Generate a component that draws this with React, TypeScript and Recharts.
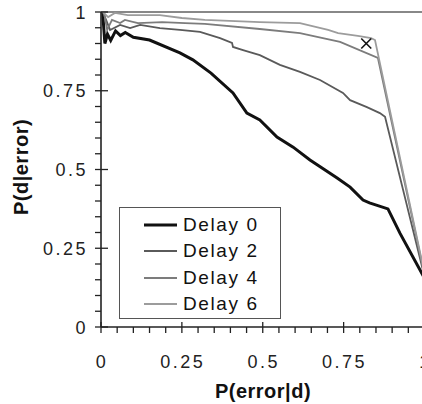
import React from 'react';
import { LineChart, Line, XAxis, YAxis, ReferenceLine, Scatter, Legend } from 'recharts';

const delay0 = [
  { x: 0.005, y: 1.0 }, { x: 0.012, y: 0.9 }, { x: 0.02, y: 0.93 }, { x: 0.03, y: 0.91 },
  { x: 0.045, y: 0.94 }, { x: 0.06, y: 0.925 }, { x: 0.075, y: 0.935 }, { x: 0.1, y: 0.92 },
  { x: 0.15, y: 0.911 }, { x: 0.244, y: 0.87 }, { x: 0.284, y: 0.848 }, { x: 0.34, y: 0.806 },
  { x: 0.408, y: 0.743 }, { x: 0.451, y: 0.679 }, { x: 0.491, y: 0.657 }, { x: 0.544, y: 0.603 },
  { x: 0.594, y: 0.571 }, { x: 0.646, y: 0.53 }, { x: 0.73, y: 0.473 }, { x: 0.77, y: 0.444 },
  { x: 0.81, y: 0.403 }, { x: 0.83, y: 0.394 }, { x: 0.887, y: 0.375 }, { x: 0.924, y: 0.298 },
  { x: 1.0, y: 0.155 },
];
const delay2 = [
  { x: 0.006, y: 1.0 }, { x: 0.028, y: 0.943 }, { x: 0.059, y: 0.959 }, { x: 0.09, y: 0.949 },
  { x: 0.121, y: 0.959 }, { x: 0.182, y: 0.949 }, { x: 0.244, y: 0.943 }, { x: 0.306, y: 0.937 },
  { x: 0.368, y: 0.917 }, { x: 0.405, y: 0.902 }, { x: 0.408, y: 0.889 }, { x: 0.439, y: 0.879 },
  { x: 0.491, y: 0.863 }, { x: 0.553, y: 0.832 }, { x: 0.615, y: 0.81 }, { x: 0.677, y: 0.784 },
  { x: 0.748, y: 0.743 }, { x: 0.77, y: 0.72 }, { x: 0.822, y: 0.698 }, { x: 0.862, y: 0.679 },
  { x: 0.878, y: 0.667 }, { x: 1.0, y: 0.16 },
];
const delay4 = [
  { x: 0.009, y: 1.0 }, { x: 0.019, y: 0.943 }, { x: 0.034, y: 0.975 }, { x: 0.059, y: 0.965 },
  { x: 0.074, y: 0.975 }, { x: 0.114, y: 0.965 }, { x: 0.189, y: 0.968 }, { x: 0.26, y: 0.965 },
  { x: 0.321, y: 0.962 }, { x: 0.491, y: 0.946 }, { x: 0.615, y: 0.933 }, { x: 0.739, y: 0.905 },
  { x: 0.856, y: 0.854 }, { x: 1.0, y: 0.165 },
];
const delay6 = [
  { x: 0.006, y: 1.0 }, { x: 0.022, y: 0.984 }, { x: 0.043, y: 0.997 }, { x: 0.083, y: 0.99 },
  { x: 0.182, y: 0.99 }, { x: 0.25, y: 0.981 }, { x: 0.321, y: 0.975 }, { x: 0.491, y: 0.968 },
  { x: 0.615, y: 0.965 }, { x: 0.702, y: 0.943 }, { x: 0.733, y: 0.933 }, { x: 0.794, y: 0.924 },
  { x: 0.835, y: 0.917 }, { x: 0.847, y: 0.911 }, { x: 1.0, y: 0.17 },
];
const marker = [{ x: 0.82, y: 0.9 }];

const allTicks = [0, 0.05, 0.1, 0.15, 0.2, 0.25, 0.3, 0.35, 0.4, 0.45, 0.5, 0.55, 0.6, 0.65, 0.7, 0.75, 0.8, 0.85, 0.9, 0.95, 1];
const majorTicks = [0, 0.25, 0.5, 0.75, 1];
const majorLabels = ['0', '0.25', '0.5', '0.75', '1'];

const seriesNames = ['Delay 0', 'Delay 2', 'Delay 4', 'Delay 6'];
const seriesColors = ['#111111', '#5a5a5a', '#7c7c7c', '#9c9c9c'];
const seriesWidths = [3, 1.8, 1.8, 1.8];

const FONT = '"Liberation Sans", Arial, Helvetica, sans-serif';
const AXIS = '#222';

const XTick = (props: any) => {
  const { x, y, payload } = props;
  const idx = majorTicks.indexOf(payload.value);
  const major = idx >= 0;
  return (
    <g>
      <line x1={x} x2={x} y1={major ? y - 5 : y} y2={y + 6} stroke={AXIS} strokeWidth={1.3} />
      {major && (
        <text x={x + 1} y={y + 41} textAnchor="middle" fontSize={18} letterSpacing={2.5} fill="#222" fontFamily={FONT}>
          {majorLabels[idx]}
        </text>
      )}
    </g>
  );
};

const YTick = (props: any) => {
  const { x, y, payload } = props;
  const idx = majorTicks.indexOf(payload.value);
  const major = idx >= 0;
  return (
    <g>
      <line x1={x - 6} x2={major ? x + 7 : x} y1={y} y2={y} stroke={AXIS} strokeWidth={1.3} />
      {major && (
        <text x={x - 13} y={y + 6.5} textAnchor="end" fontSize={18} letterSpacing={2.5} fill="#222" fontFamily={FONT}>
          {majorLabels[idx]}
        </text>
      )}
    </g>
  );
};

const XMark = (props: any) => {
  const { cx, cy } = props;
  const r = 5;
  return (
    <g>
      <line x1={cx - r} y1={cy - r} x2={cx + r} y2={cy + r} stroke="#111" strokeWidth={1.6} />
      <line x1={cx - r} y1={cy + r} x2={cx + r} y2={cy - r} stroke="#111" strokeWidth={1.6} />
    </g>
  );
};

const LegendBox = () => (
  <div
    style={{
      width: 160,
      height: 110,
      border: '1.5px solid #555',
      background: '#fff',
      position: 'relative',
      fontFamily: FONT,
    }}
  >
    {seriesNames.map((n, i) => (
      <div key={n} style={{ position: 'absolute', left: 0, top: 4 + i * 26.3, height: 26, width: 160 }}>
        <svg width={40} height={26} style={{ position: 'absolute', left: 22, top: 0 }}>
          <line x1={2} x2={35} y1={13} y2={13} stroke={seriesColors[i]} strokeWidth={seriesWidths[i]} />
        </svg>
        <span
          style={{
            position: 'absolute',
            left: 63,
            top: 1,
            fontSize: 19,
            letterSpacing: 1.6,
            color: '#111',
            lineHeight: '24px',
            whiteSpace: 'nowrap',
          }}
        >
          {n}
        </span>
      </div>
    ))}
  </div>
);

const series = [delay0, delay2, delay4, delay6];

export default function App() {
  return (
    <div style={{ position: 'absolute', left: 0, top: 0, width: 422, height: 404, overflow: 'hidden', background: '#fff' }}>
      <LineChart width={440} height={404} margin={{ top: 12, right: 15.5, bottom: 0, left: 0 }}>
        <XAxis
          type="number"
          dataKey="x"
          domain={[0, 1]}
          ticks={allTicks}
          interval={0}
          tickSize={0}
          tickMargin={0}
          tick={<XTick />}
          tickLine={false}
          axisLine={{ stroke: AXIS, strokeWidth: 1.6 }}
          height={77}
          allowDataOverflow
          label={{
            content: () => (
              <text x={263} y={398} textAnchor="middle" fontSize={20} fontWeight="bold" fill="#111" fontFamily={FONT} letterSpacing={0.5}>
                P(error|d)
              </text>
            ),
          }}
        />
        <YAxis
          type="number"
          dataKey="y"
          domain={[0, 1]}
          ticks={allTicks}
          interval={0}
          tickSize={0}
          tickMargin={0}
          tick={<YTick />}
          tickLine={false}
          axisLine={{ stroke: AXIS, strokeWidth: 1.6 }}
          width={101}
          allowDataOverflow
          label={{
            content: () => (
              <text
                x={28}
                y={167}
                transform="rotate(-90 28 167)"
                textAnchor="middle"
                fontSize={20}
                fontWeight="bold"
                fill="#111"
                fontFamily={FONT}
                letterSpacing={0.5}
              >
                P(d|error)
              </text>
            ),
          }}
        />
        <ReferenceLine y={1} stroke="#888" strokeWidth={2} ifOverflow="visible" />
        {series.map((d, i) => (
          <Line
            key={seriesNames[i]}
            data={d}
            dataKey="y"
            name={seriesNames[i]}
            type="linear"
            stroke={seriesColors[i]}
            strokeWidth={seriesWidths[i]}
            dot={false}
            activeDot={false}
            isAnimationActive={false}
          />
        ))}
        <Scatter data={marker} dataKey="y" shape={<XMark />} isAnimationActive={false} />
        <Legend
          content={<LegendBox />}
          layout="vertical"
          verticalAlign="middle"
          align="center"
          wrapperStyle={{ position: 'absolute', left: 119, top: 207, width: 163, height: 113 }}
        />
      </LineChart>
    </div>
  );
}
